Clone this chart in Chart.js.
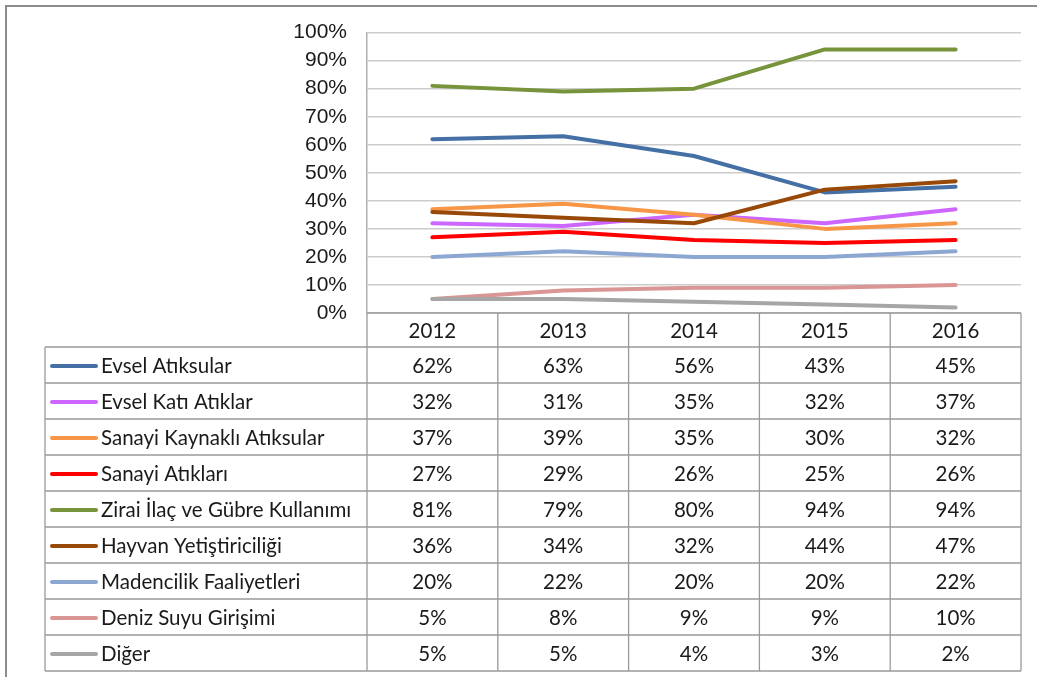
<!DOCTYPE html>
<html>
<head>
<meta charset="utf-8">
<script src="https://cdn.jsdelivr.net/npm/chart.js@4.4.1/dist/chart.umd.min.js"></script>
<style>
    html, body { margin: 0; padding: 0; background: #fff; }
    #wrap { width: 1037px; height: 677px; }
</style>
</head>
<body>
<div id="wrap"><canvas id="kirlilikChart" width="1037" height="677"></canvas></div>
<script>
// yillar ve seriler
const years = ['2012', '2013', '2014', '2015', '2016'];
const yTicks = [0, 10, 20, 30, 40, 50, 60, 70, 80, 90, 100];

const seriesNames = [
    'Evsel Atıksular',
    'Evsel Katı Atıklar',
    'Sanayi Kaynaklı Atıksular',
    'Sanayi Atıkları',
    'Zirai İlaç ve Gübre Kullanımı',
    'Hayvan Yetiştiriciliği',
    'Madencilik Faaliyetleri',
    'Deniz Suyu Girişimi',
    'Diğer'
];

const evselAtiksular = [62, 63, 56, 43, 45];
const evselKatiAtiklar = [32, 31, 35, 32, 37];
const sanayiKaynakliAtiksular = [37, 39, 35, 30, 32];
const sanayiAtiklari = [27, 29, 26, 25, 26];
const ziraiIlacGubre = [81, 79, 80, 94, 94];
const hayvanYetistiriciligi = [36, 34, 32, 44, 47];
const madencilik = [20, 22, 20, 20, 22];
const denizSuyu = [5, 8, 9, 9, 10];
const diger = [5, 5, 4, 3, 2];

const seriesValues = [
    evselAtiksular, evselKatiAtiklar, sanayiKaynakliAtiksular, sanayiAtiklari,
    ziraiIlacGubre, hayvanYetistiriciligi, madencilik, denizSuyu, diger
];

const seriesColors = [
    '#4470A6', '#CC66FF', '#F79646', '#FF0000',
    '#77933C', '#984807', '#8DA7D3', '#D99694', '#A6A6A6'
];

// tablo yerlesimi
const TABLE_LEFT = 45;
const HEADER_BOTTOM = 347;
const ROW_HEIGHT = 36;
const TABLE_LINE = '#9a9a9a';
const TABLE_FONT = '20.5px Lato, "Open Sans", sans-serif';

const dataTablePlugin = {
    id: 'dataTable',
    afterDraw(chart) {
        const ctx = chart.ctx;
        const x = chart.scales.x;
        const area = chart.chartArea;
        const n = years.length;
        const band = (area.right - area.left) / n;
        const tableBottom = HEADER_BOTTOM + seriesNames.length * ROW_HEIGHT;

        ctx.save();

        // dis cerceve
        ctx.strokeStyle = '#8c8c8c';
        ctx.lineWidth = 2;
        ctx.strokeRect(6, 6, chart.width + 10, chart.height + 10);

        ctx.strokeStyle = TABLE_LINE;
        ctx.lineWidth = 1.3;
        ctx.beginPath();
        // yatay cizgiler
        ctx.moveTo(area.left, area.bottom);
        ctx.lineTo(area.right, area.bottom);
        for (let r = 0; r <= seriesNames.length; r++) {
            const y = HEADER_BOTTOM + r * ROW_HEIGHT;
            ctx.moveTo(TABLE_LEFT, y);
            ctx.lineTo(area.right, y);
        }
        // dikey cizgiler
        ctx.moveTo(TABLE_LEFT, HEADER_BOTTOM);
        ctx.lineTo(TABLE_LEFT, tableBottom);
        for (let i = 0; i <= n; i++) {
            const xx = area.left + i * band;
            ctx.moveTo(xx, area.bottom);
            ctx.lineTo(xx, tableBottom);
        }
        ctx.stroke();

        ctx.fillStyle = '#1a1a1a';
        ctx.font = TABLE_FONT;
        ctx.textBaseline = 'middle';
        ctx.textAlign = 'center';
        years.forEach((yr, i) => {
            ctx.fillText(yr, x.getPixelForValue(i), (area.bottom + HEADER_BOTTOM) / 2 + 1);
        });

        seriesNames.forEach((name, r) => {
            const cy = HEADER_BOTTOM + r * ROW_HEIGHT + ROW_HEIGHT / 2 + 1;
            // legend anahtari
            ctx.strokeStyle = seriesColors[r];
            ctx.lineWidth = 4;
            ctx.lineCap = 'round';
            ctx.beginPath();
            ctx.moveTo(TABLE_LEFT + 7, cy);
            ctx.lineTo(TABLE_LEFT + 51, cy);
            ctx.stroke();

            ctx.fillStyle = '#1a1a1a';
            ctx.textAlign = 'left';
            ctx.fillText(name, TABLE_LEFT + 56, cy);

            ctx.textAlign = 'center';
            seriesValues[r].forEach((v, i) => {
                ctx.fillText(v + '%', x.getPixelForValue(i), cy);
            });
        });

        ctx.restore();
    }
};

const datasets = seriesNames.map((name, i) => ({
    label: name,
    data: seriesValues[i],
    borderColor: seriesColors[i],
    backgroundColor: seriesColors[i],
    borderWidth: 4,
    borderCapStyle: 'round',
    borderJoinStyle: 'round',
    pointRadius: 0,
    tension: 0,
    order: seriesNames.length - i
}));

new Chart(document.getElementById('kirlilikChart'), {
    type: 'line',
    data: { labels: years, datasets: datasets },
    options: {
        responsive: false,
        devicePixelRatio: 1,
        animation: false,
        layout: {
            padding: { left: 0, top: 30, right: 16, bottom: 364 }
        },
        plugins: {
            legend: { display: false },
            tooltip: { enabled: false }
        },
        scales: {
            x: {
                display: false,
                offset: true
            },
            y: {
                min: 0,
                max: 100,
                afterFit(scale) { scale.width = 367; },
                afterBuildTicks(scale) { scale.ticks = yTicks.map(v => ({ value: v })); },
                grid: {
                    color: '#cccccc',
                    lineWidth: 1.5,
                    drawTicks: false
                },
                border: { color: '#b0b0b0', width: 1.5 },
                ticks: {
                    padding: 20,
                    color: '#1a1a1a',
                    font: { family: '"Liberation Sans", Arial, sans-serif', size: 21 },
                    callback: v => v + '%'
                }
            }
        }
    },
    plugins: [dataTablePlugin]
});
</script>
</body>
</html>
